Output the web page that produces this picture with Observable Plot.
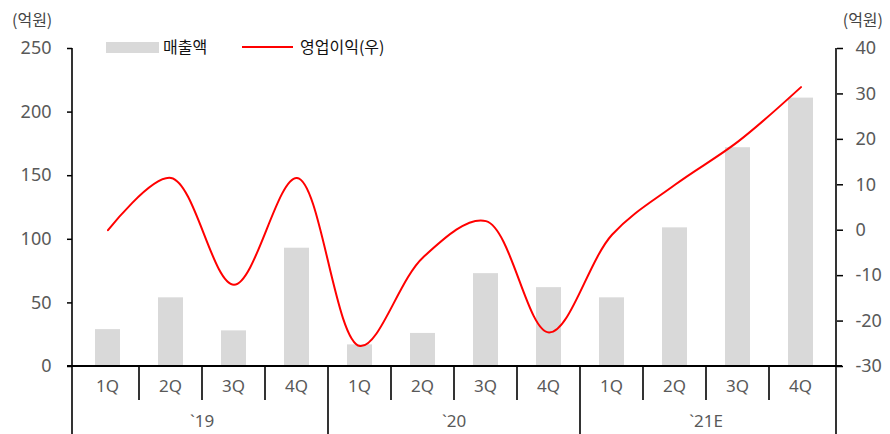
<!DOCTYPE html>
<html><head><meta charset="utf-8">
<script src="https://cdn.jsdelivr.net/npm/d3@7"></script>
<script src="https://cdn.jsdelivr.net/npm/@observablehq/plot@0.6"></script>
<style>
body{margin:0;background:#fff}
</style>
</head><body><div id="chart"></div>
<script>
const years = ["`19", "`20", "`21E"];
const quarters = ["1Q", "2Q", "3Q", "4Q"];
const sales = [29, 54, 28, 93, 17, 26, 73, 62, 54, 109, 172, 211];
const profit = [0, 11.5, -12, 11.5, -25.5, -6, 2, -22.5, -1, 10, 19.5, 31.5];
const leftTicks = [0, 50, 100, 150, 200, 250];
const rightTicks = [-30, -20, -10, 0, 10, 20, 30, 40];
const seriesNames = ["매출액", "영업이익(우)"];
const unitLabel = "(억원)";

const FONT = '"Noto Sans","Noto Sans CJK KR",sans-serif';
const KFONT = '"Noto Sans CJK KR","Noto Sans",sans-serif';
const L = [0, 250], R = [-30, 40];
const toLeft = v => (v - R[0]) / (R[1] - R[0]) * (L[1] - L[0]) + L[0];
const fromLeft = v => Math.round((v - L[0]) / (L[1] - L[0]) * (R[1] - R[0]) + R[0]);

const data = sales.map((s, i) => ({
  key: years[Math.floor(i / 4)] + " " + quarters[i % 4],
  year: years[Math.floor(i / 4)],
  q: quarters[i % 4],
  sales: s,
  profit: profit[i]
}));
const keys = data.map(d => d.key);

function decorations(index, scales, values, dims) {
  const {width, height, marginTop, marginBottom, marginLeft, marginRight} = dims;
  const x = scales.x;
  const bw = typeof x.bandwidth === "function" ? x.bandwidth() : x.bandwidth;
  const y0 = height - marginBottom;
  const xr = width - marginRight;
  const g = d3.create("svg:g");
  const line = (x1, y1, x2, y2, sw = 1.6) => g.append("line")
    .attr("x1", x1).attr("y1", y1).attr("x2", x2).attr("y2", y2)
    .attr("stroke", "#000").attr("stroke-width", sw);
  const text = (px, py, str, anchor, size, fill, family) => g.append("text")
    .attr("x", px).attr("y", py).attr("text-anchor", anchor).attr("font-size", size)
    .attr("fill", fill).attr("font-family", family).text(str);
  // axis lines
  line(marginLeft, marginTop, marginLeft, height);
  line(xr, marginTop, xr, height);
  line(marginLeft - 5, y0, xr + 6, y0, 2);
  // separators
  data.forEach((d, i) => {
    if (i === 0) return;
    const px = x(d.key);
    if (i % 4 === 0) line(px, y0, px, height);
    else line(px, y0, px, y0 + 34);
  });
  // quarter labels
  data.forEach(d => text(x(d.key) + bw / 2, y0 + 26, d.q, "middle", 17, "#595959", FONT));
  // year labels
  years.forEach((yr, j) => {
    const a = x(keys[j * 4]), b = x(keys[j * 4 + 3]) + bw;
    text((a + b) / 2, y0 + 61, yr, "middle", 17, "#595959", FONT);
  });
  // unit labels
  text(12, 26, unitLabel, "start", 16, "#444", KFONT);
  text(width - 7, 26, unitLabel, "end", 16, "#444", KFONT);
  // legend
  g.append("rect").attr("x", 106).attr("y", 42).attr("width", 53).attr("height", 11).attr("fill", "#d9d9d9");
  text(163, 53, seriesNames[0], "start", 16, "#111", KFONT);
  g.append("line").attr("x1", 242).attr("x2", 293).attr("y1", 47).attr("y2", 47)
    .attr("stroke", "#ff0000").attr("stroke-width", 2);
  text(300, 53, seriesNames[1], "start", 16, "#111", KFONT);
  return g.node();
}

const chart = Plot.plot({
  width: 890,
  height: 434,
  marginTop: 48,
  marginBottom: 68,
  marginLeft: 72,
  marginRight: 54,
  style: {fontFamily: FONT, background: "#fff", overflow: "visible"},
  x: {type: "band", domain: keys, padding: 0, axis: null},
  y: {domain: L, label: null, axis: null},
  marks: [
    Plot.barY(data, {x: "key", y: "sales", fill: "#d9d9d9", insetLeft: 19, insetRight: 19}),
    Plot.line(data, {x: "key", y: d => toLeft(d.profit), stroke: "#ff0000", strokeWidth: 2, curve: "catmull-rom"}),
    Plot.axisY({anchor: "left", ticks: leftTicks, tickSize: 5, tickPadding: 16, fontSize: 18,
      stroke: "#000", fill: "#595959", strokeWidth: 1.5, label: null}),
    Plot.axisY({anchor: "right", ticks: rightTicks.map(toLeft), tickFormat: fromLeft, tickSize: 6, tickPadding: 13, fontSize: 18,
      stroke: "#000", fill: "#595959", strokeWidth: 1.5, label: null}),
    decorations
  ]
});
document.getElementById("chart").appendChild(chart);
</script>
</body></html>
